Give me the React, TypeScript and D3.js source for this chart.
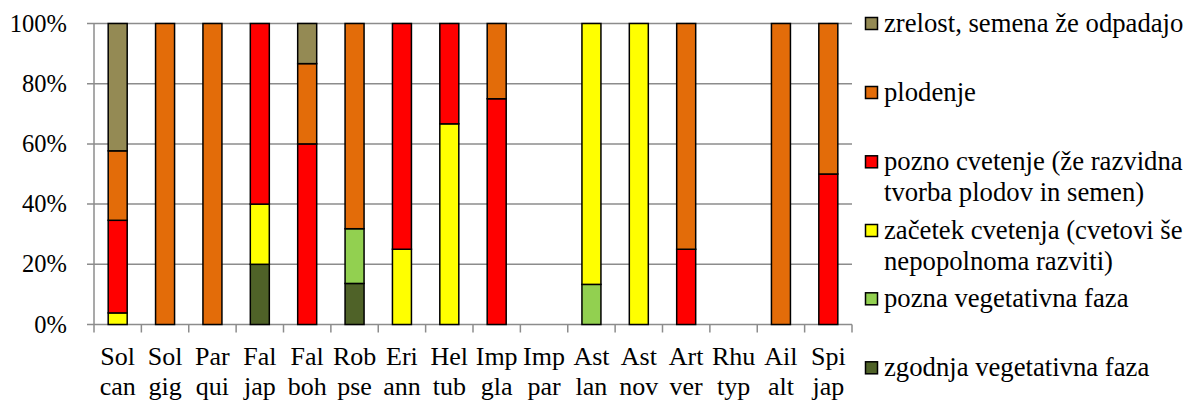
import React, { useEffect, useRef } from 'react';
import * as d3 from 'd3';

const categories = [
  ['Sol', 'can'], ['Sol', 'gig'], ['Par', 'qui'], ['Fal', 'jap'], ['Fal', 'boh'],
  ['Rob', 'pse'], ['Eri', 'ann'], ['Hel', 'tub'], ['Imp', 'gla'], ['Imp', 'par'],
  ['Ast', 'lan'], ['Ast', 'nov'], ['Art', 'ver'], ['Rhu', 'typ'], ['Ail', 'alt'],
  ['Spi', 'jap'],
];

// stacked from bottom to top
const seriesNames = [
  'zgodnja vegetativna faza',
  'pozna vegetativna faza',
  'začetek cvetenja (cvetovi še nepopolnoma razviti)',
  'pozno cvetenje (že razvidna tvorba plodov in semen)',
  'plodenje',
  'zrelost, semena že odpadajo',
];
const seriesColors = ['#4F6228', '#92D050', '#FFFF00', '#FF0000', '#E36C09', '#948A54'];

const zgodnja = [0, 0, 0, 20, 0, 13.64, 0, 0, 0, 0, 0, 0, 0, 0, 0, 0];
const pozna = [0, 0, 0, 0, 0, 18.18, 0, 0, 0, 0, 13.33, 0, 0, 0, 0, 0];
const zacetek = [3.85, 0, 0, 20, 0, 0, 25, 66.67, 0, 0, 86.67, 100, 0, 0, 0, 0];
const pozno = [30.77, 0, 0, 60, 60, 0, 75, 33.33, 75, 0, 0, 0, 25, 0, 0, 50];
const plodenje = [23.08, 100, 100, 0, 26.67, 68.18, 0, 0, 25, 0, 0, 0, 75, 0, 100, 50];
const zrelost = [42.3, 0, 0, 0, 13.33, 0, 0, 0, 0, 0, 0, 0, 0, 0, 0, 0];

const yTicks = [0, 20, 40, 60, 80, 100];

// legend lines (wrapped as in the original), top to bottom
const legendLines = [
  ['zrelost, semena že odpadajo'],
  ['plodenje'],
  ['pozno cvetenje (že razvidna', 'tvorba plodov in semen)'],
  ['začetek cvetenja (cvetovi še', 'nepopolnoma razviti)'],
  ['pozna vegetativna faza'],
  ['zgodnja vegetativna faza'],
];
const legendColors = ['#948A54', '#E36C09', '#FF0000', '#FFFF00', '#92D050', '#4F6228'];
const legendY = [24, 93, 162.3, 231, 299.3, 368.3];

export default function App() {
  const ref = useRef<SVGSVGElement>(null);

  useEffect(() => {
    const svg = d3.select(ref.current);
    svg.selectAll('*').remove();

    const left = 94, right = 852, top = 23.5, bottom = 324.5;
    const font = 'Liberation Serif, Times New Roman, serif';
    const grid = '#8C8C8C';

    const x = d3.scaleBand().domain(d3.range(categories.length).map(String)).range([left, right]);
    const y = d3.scaleLinear().domain([0, 100]).range([bottom, top]);

    // gridlines and y labels
    yTicks.forEach(t => {
      svg.append('line')
        .attr('x1', left - 7).attr('x2', right)
        .attr('y1', y(t)).attr('y2', y(t))
        .attr('stroke', grid).attr('stroke-width', 1.5);
      svg.append('text')
        .attr('x', 67).attr('y', y(t) + 8)
        .attr('text-anchor', 'end')
        .style('font-family', font).attr('font-size', 24.5)
        .attr('fill', '#000')
        .text(t + '%');
    });

    // y axis
    svg.append('line')
      .attr('x1', left).attr('x2', left)
      .attr('y1', top).attr('y2', bottom)
      .attr('stroke', grid).attr('stroke-width', 1.5);

    // x tick marks
    d3.range(categories.length + 1).forEach(i => {
      const xx = left + i * x.step();
      svg.append('line')
        .attr('x1', xx).attr('x2', xx)
        .attr('y1', bottom).attr('y2', bottom + 8)
        .attr('stroke', grid).attr('stroke-width', 1.5);
    });

    const table = categories.map((c, i) => ({
      key: String(i),
      s0: zgodnja[i], s1: pozna[i], s2: zacetek[i], s3: pozno[i], s4: plodenje[i], s5: zrelost[i],
    }));
    const stack = d3.stack<any>().keys(['s0', 's1', 's2', 's3', 's4', 's5']);
    const layers = stack(table);

    const barW = 19;
    layers.forEach((layer, li) => {
      svg.append('g')
        .selectAll('rect')
        .data(layer.filter(d => d[1] - d[0] > 0))
        .enter().append('rect')
        .attr('x', d => (x(d.data.key) as number) + x.bandwidth() / 2 - barW / 2)
        .attr('width', barW)
        .attr('y', d => y(d[1]))
        .attr('height', d => y(d[0]) - y(d[1]))
        .attr('fill', seriesColors[li])
        .attr('stroke', '#000')
        .attr('stroke-width', 1.5);
    });

    // x labels
    categories.forEach((c, i) => {
      const cx = (x(String(i)) as number) + x.bandwidth() / 2;
      c.forEach((s, j) => {
        svg.append('text')
          .attr('x', cx).attr('y', 365 + j * 30)
          .attr('text-anchor', 'middle')
          .style('font-family', font).attr('font-size', 26)
          .attr('fill', '#000')
          .text(s);
      });
    });

    // legend
    legendLines.forEach((lines, i) => {
      const ly = legendY[i];
      svg.append('rect')
        .attr('x', 865.5).attr('y', ly - 6.5)
        .attr('width', 12).attr('height', 12)
        .attr('fill', legendColors[i])
        .attr('stroke', '#000').attr('stroke-width', 1.5);
      lines.forEach((s, j) => {
        svg.append('text')
          .attr('x', 884).attr('y', ly + 7.5 + j * 31)
          .style('font-family', font).attr('font-size', 26.7)
          .attr('fill', '#000')
          .text(s);
      });
    });
  }, []);

  return (
    <svg ref={ref} width={1184} height={400}
      style={{ position: 'absolute', left: 0, top: 0, background: '#fff' }} />
  );
}
